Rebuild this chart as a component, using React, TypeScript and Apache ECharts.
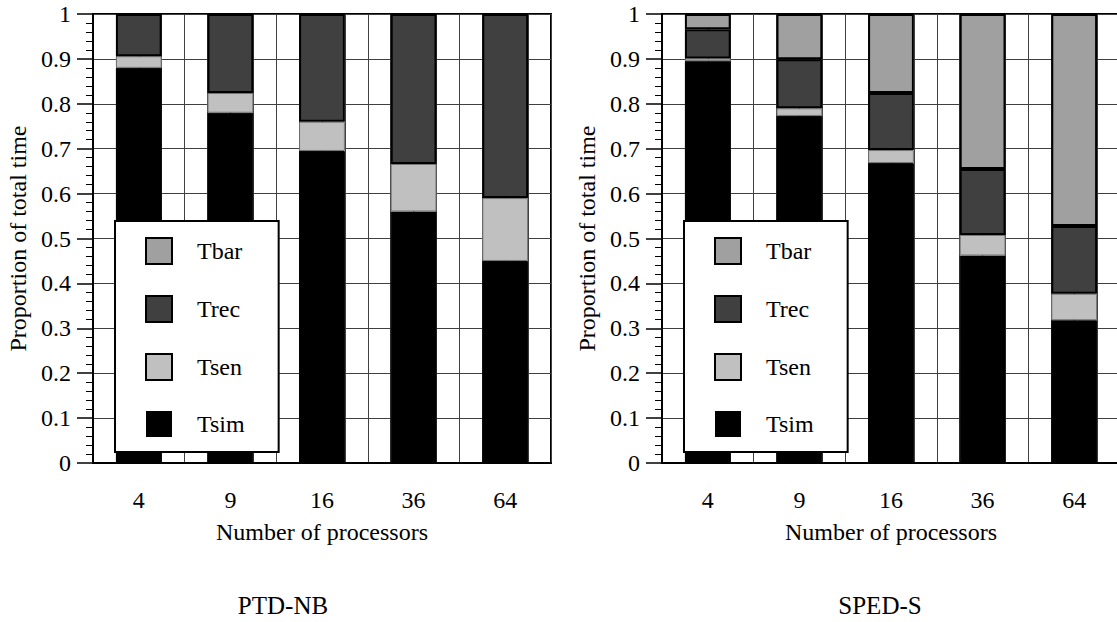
import React, { useEffect, useRef } from "react";
import * as echarts from "echarts";

const categories = ["4", "9", "16", "36", "64"];
const seriesNames = ["Tsim", "Tsen", "Trec", "Tbar"];
const legendOrder = ["Tbar", "Trec", "Tsen", "Tsim"];
const panelTitles = ["PTD-NB", "SPED-S"];

// PTD-NB segment values
const ptdTsim = [0.88, 0.78, 0.695, 0.56, 0.45];
const ptdTsen = [0.026, 0.044, 0.065, 0.106, 0.14];
const ptdTrec = [0.094, 0.176, 0.24, 0.334, 0.41];
const ptdTbar = [0, 0, 0, 0, 0];

// SPED-S segment values
const spedTsim = [0.895, 0.773, 0.668, 0.462, 0.318];
const spedTsen = [0.006, 0.017, 0.029, 0.046, 0.059];
const spedTrec = [0.065, 0.109, 0.127, 0.147, 0.151];
const spedTbar = [0.034, 0.101, 0.176, 0.345, 0.472];

const FONT = "Liberation Serif";

const fills: Record<string, string> = {
  Tsim: "#000000",
  Tsen: "#c0c0c0",
  Trec: "#404040",
  Tbar: "#a0a0a0",
};
const borders: Record<string, [string, number]> = {
  Tsim: ["#000000", 1],
  Tsen: ["#707070", 1],
  Trec: ["#000000", 2],
  Tbar: ["#000000", 2],
};

export default function App() {
  const ref = useRef<HTMLDivElement>(null);
  useEffect(() => {
    if (!ref.current) return;
    const chart = echarts.init(ref.current, null, { renderer: "svg" });
    const panels = [
      { Tsim: ptdTsim, Tsen: ptdTsen, Trec: ptdTrec, Tbar: ptdTbar },
      { Tsim: spedTsim, Tsen: spedTsen, Trec: spedTrec, Tbar: spedTbar },
    ];
    const gridLeft = [93, 662];
    const gridTop = 14;
    const gridW = 458;
    const gridH = 449;
    const legendLeft = [115, 684];
    const titleX = [283, 880];

    const textBase = { fontFamily: FONT, color: "#000", fontSize: 24 };

    const option: any = {
      animation: false,
      backgroundColor: "#fff",
      textStyle: { fontFamily: FONT },
      grid: gridLeft.map((l) => ({
        left: l,
        top: gridTop,
        width: gridW,
        height: gridH,
        show: true,
        borderColor: "#000",
        borderWidth: 2,
        backgroundColor: "transparent",
      })),
      xAxis: [
        ...[0, 1].map((i) => ({
          type: "category",
          gridIndex: i,
          data: categories,
          boundaryGap: true,
          axisLine: { lineStyle: { color: "#000", width: 2 } },
          axisTick: { length: 15, lineStyle: { color: "#000", width: 1.5 } },
          axisLabel: { ...textBase, margin: 25 },
          splitLine: { show: false },
          name: "Number of processors",
          nameLocation: "middle",
          nameGap: 57,
          nameTextStyle: { ...textBase },
        })),
        ...[0, 1].map((i) => ({
          type: "value",
          gridIndex: i,
          min: 0,
          max: 20,
          interval: 1,
          position: "top",
          axisLine: { show: false },
          axisTick: { show: false },
          axisLabel: { show: false },
          splitLine: { show: true, lineStyle: { color: "#404040", width: 1 } },
        })),
      ],
      yAxis: [0, 1].map((i) => ({
        type: "value",
        gridIndex: i,
        min: 0,
        max: 1,
        interval: 0.1,
        axisLine: { show: true, lineStyle: { color: "#000", width: 2 } },
        axisTick: { show: true, length: 16, lineStyle: { color: "#000", width: 1.5 } },
        minorTick: { show: true, splitNumber: 5, length: 7, lineStyle: { color: "#000", width: 1 } },
        splitLine: { show: true, lineStyle: { color: "#404040", width: 1 } },
        axisLabel: { ...textBase, margin: 22 },
        name: "Proportion of total time",
        nameLocation: "middle",
        nameGap: 63,
        nameTextStyle: { ...textBase },
      })),
      legend: [0, 1].map((i) => ({
        orient: "vertical",
        left: legendLeft[i],
        top: 221,
        padding: [16, 34, 15, 30],
        itemWidth: 26,
        itemHeight: 26,
        itemGap: 30,
        icon: "rect",
        backgroundColor: "#fff",
        borderColor: "#000",
        borderWidth: 2,
        selectedMode: false,
        z: 10,
        textStyle: { ...textBase, padding: [0, 0, 0, 20] },
        data: legendOrder.map((n) => ({
          name: n,
          itemStyle: { borderColor: "#000", borderWidth: n === "Tsim" ? 0 : 2 },
        })),
      })),
      graphic: panelTitles.map((t, i) => ({
        type: "text",
        x: titleX[i],
        y: 605,
        style: {
          text: t,
          fontSize: 25,
          fontFamily: FONT,
          fill: "#000",
          textAlign: "center",
          textVerticalAlign: "middle",
        },
      })),
      series: [0, 1].flatMap((i) =>
        seriesNames.map((n) => ({
          type: "bar",
          name: n,
          xAxisIndex: i,
          yAxisIndex: i,
          stack: "s" + i,
          barWidth: "50%",
          data: (panels[i] as any)[n],
          itemStyle: {
            color: fills[n],
            borderColor: borders[n][0],
            borderWidth: borders[n][1],
          },
          emphasis: { disabled: true },
        }))
      ),
    };
    chart.setOption(option);
    return () => chart.dispose();
  }, []);

  return (
    <div
      style={{
        position: "fixed",
        left: 0,
        top: 0,
        width: 1117,
        height: 622,
        overflow: "hidden",
        background: "#fff",
      }}
    >
      <div ref={ref} style={{ width: 1140, height: 622 }} />
    </div>
  );
}
